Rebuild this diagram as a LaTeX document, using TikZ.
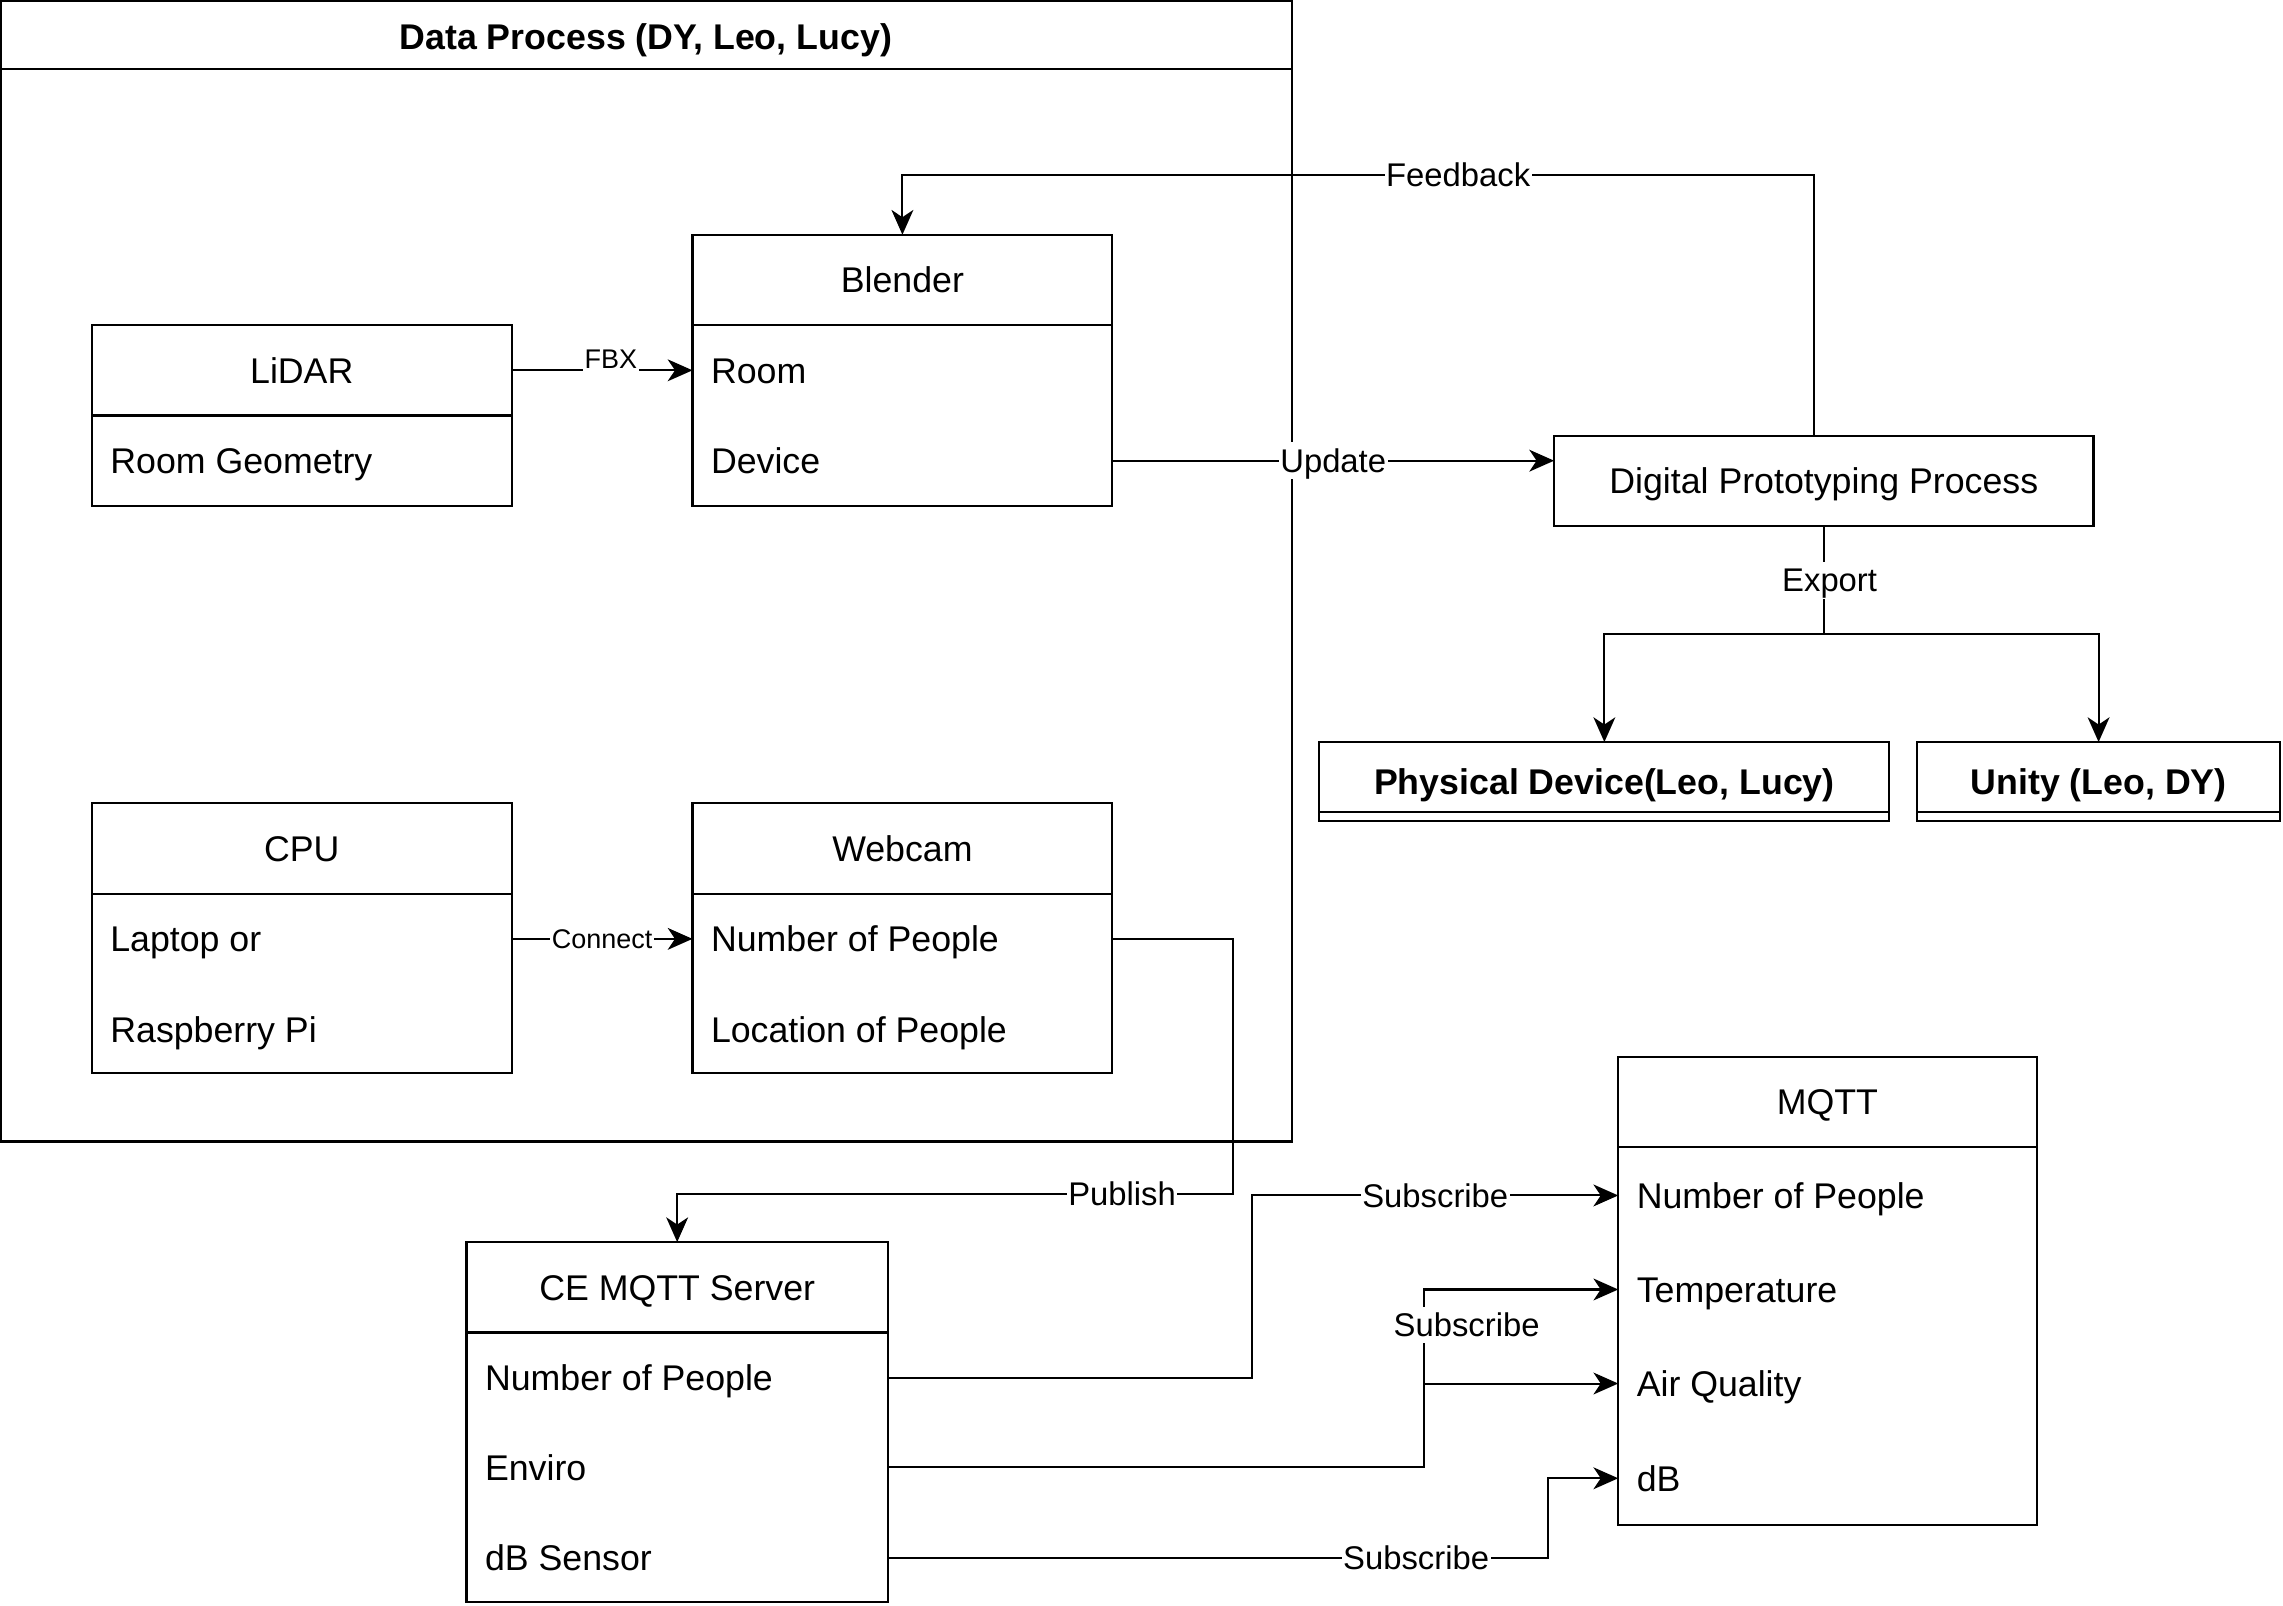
\documentclass[tikz,border=0pt]{standalone}
\usepackage{fontspec}
\setmainfont{Liberation Sans}
\usetikzlibrary{arrows.meta}
\begin{document}
\begin{tikzpicture}[x=1pt,y=-1pt, line width=1.4pt,
  frame/.style={draw, rectangle, inner sep=0pt, outer sep=0pt, anchor=north west},
  hdr/.style={frame, font=\fontsize{24.5}{29}\selectfont, text height=17.5pt, text depth=0pt},
  txt/.style={inner sep=0pt, anchor=west, font=\fontsize{24.5}{29}\selectfont, text height=17.5pt, text depth=0pt},
  lbl/.style={fill=white, inner xsep=1pt, inner ysep=4.5pt, font=\fontsize{22.5}{27}\selectfont, text height=16.1pt, text depth=0pt},
  smalllbl/.style={lbl, inner ysep=3pt, font=\fontsize{18.5}{22}\selectfont, text height=13.3pt},
  arr/.style={-{Stealth[length=17pt,width=15pt,inset=5pt]}}]
\useasboundingbox (0,0) rectangle (1566,1101);

% container
\node[frame, minimum width=885pt, minimum height=782pt] (cont) at (1,1) {};
\draw ([yshift=-46pt]cont.north west) -- ([yshift=-46pt]cont.north east);
\node[font=\bfseries\fontsize{24.5}{29}\selectfont, text height=17.5pt, text depth=0pt, inner sep=0pt] (title) at (443,25) {Data Process (DY, Leo, Lucy)};

% LiDAR
\node[hdr, minimum width=288pt, minimum height=62pt] (lidarH) at (63,223) {LiDAR};
\node[frame, minimum width=288pt, minimum height=62pt] (lidarB) at (63,285) {};
\node[txt] (lidarR1) at (75,316) {Room Geometry};

% Blender
\node[hdr, minimum width=288pt, minimum height=62pt] (blenderH) at (475,161) {Blender};
\node[frame, minimum width=288pt, minimum height=124pt] (blenderB) at (475,223) {};
\node[txt] (blR1) at (487,254) {Room};
\node[txt] (blR2) at (487,316) {Device};

% CPU
\node[hdr, minimum width=288pt, minimum height=62pt] (cpuH) at (63,551) {CPU};
\node[frame, minimum width=288pt, minimum height=123pt] (cpuB) at (63,613) {};
\node[txt] (cpuR1) at (75,644) {Laptop or};
\node[txt] (cpuR2) at (75,706) {Raspberry Pi};

% Webcam
\node[hdr, minimum width=288pt, minimum height=62pt] (webH) at (475,551) {Webcam};
\node[frame, minimum width=288pt, minimum height=123pt] (webB) at (475,613) {};
\node[txt] (webR1) at (487,644) {Number of People};
\node[txt] (webR2) at (487,706) {Location of People};

% Digital Prototyping Process
\node[hdr, minimum width=370pt, minimum height=62pt] (dpp) at (1066,299) {Digital Prototyping Process};

% Physical device / Unity
\node[frame, minimum width=391pt, minimum height=54pt, font=\bfseries\fontsize{24.5}{29}\selectfont, text height=17.5pt, text depth=0pt] (phys) at (905,509) {Physical Device(Leo, Lucy)};
\draw ([yshift=6pt]phys.south west) -- ([yshift=6pt]phys.south east);
\node[frame, minimum width=249pt, minimum height=54pt, font=\bfseries\fontsize{24.5}{29}\selectfont, text height=17.5pt, text depth=0pt] (unity) at (1315,509) {Unity (Leo, DY)};
\draw ([yshift=6pt]unity.south west) -- ([yshift=6pt]unity.south east);

% CE MQTT Server
\node[hdr, minimum width=289pt, minimum height=62pt] (ceH) at (320,852) {CE MQTT Server};
\node[frame, minimum width=289pt, minimum height=185pt] (ceB) at (320,914) {};
\node[txt] (ceR1) at (332,945) {Number of People};
\node[txt] (ceR2) at (332,1006.5) {Enviro};
\node[txt] (ceR3) at (332,1068.5) {dB Sensor};

% MQTT
\node[hdr, minimum width=287pt, minimum height=62pt] (mqH) at (1110,725) {MQTT};
\node[frame, minimum width=287pt, minimum height=259pt] (mqB) at (1110,787) {};
\node[txt] (mqR1) at (1122,820) {Number of People};
\node[txt] (mqR2) at (1122,884.5) {Temperature};
\node[txt] (mqR3) at (1122,949) {Air Quality};
\node[txt] (mqR4) at (1122,1014) {dB};

% bend points
\coordinate (pubknee) at (846,819);
\coordinate (k1) at (859,0);
\coordinate (k2) at (977,0);
\coordinate (k3) at (1062,0);

% connectors
\draw[arr] (lidarH.east) -- node[smalllbl, xshift=6pt, yshift=8pt] {FBX} (lidarH.east -| blenderB.west);
\draw[arr] (cpuR1 -| cpuB.east) -- node[smalllbl] {Connect} (cpuR1 -| webB.west);
\draw[arr] (blR2 -| blenderB.east) -- node[lbl] {Update} (blR2 -| dpp.west);
\draw[arr] ([xshift=-7pt]dpp.north) |- node[lbl, pos=0.695] {Feedback} ([yshift=41pt]blenderH.north) -- (blenderH.north);
\draw (dpp.south) -- node[lbl, xshift=4pt] {Export} ([yshift=-74pt]dpp.south) coordinate (exsplit);
\draw[arr] (exsplit) -| (phys.north);
\draw[arr] (exsplit) -| (unity.north);
\draw[arr] (webR1 -| webB.east) -| (pubknee) -| node[lbl, pos=0.1] {Publish} (ceH.north);
\draw[arr] (ceR1 -| ceB.east) -| (k1 |- mqR1) -- node[lbl] {Subscribe} (mqR1 -| mqB.west);
\draw[arr] (ceR2 -| ceB.east) -| node[lbl, pos=0.9, xshift=29pt] {Subscribe} (k2 |- mqR2) -- (mqR2 -| mqB.west);
\draw[arr] (k2 |- mqR3) -- (mqR3 -| mqB.west);
\draw[arr] (ceR3 -| ceB.east) -| node[lbl, pos=0.4] {Subscribe} (k3 |- mqR4) -- (mqR4 -| mqB.west);
\end{tikzpicture}
\end{document}
